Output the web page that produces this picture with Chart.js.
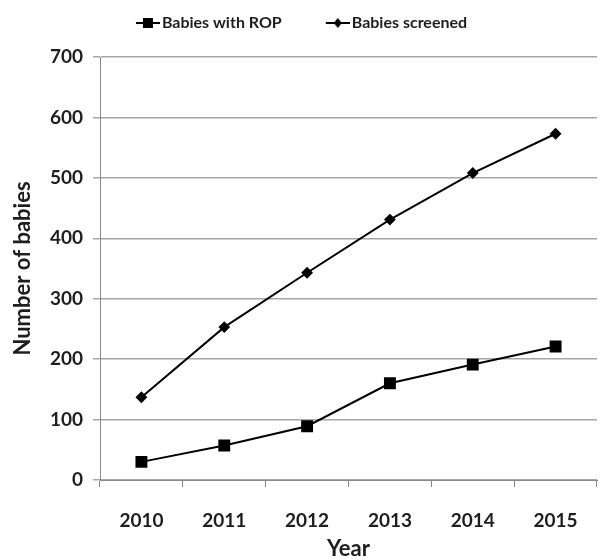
<!DOCTYPE html>
<html>
<head>
<meta charset="utf-8">
<script src="https://cdn.jsdelivr.net/npm/chart.js@4.4.1/dist/chart.umd.min.js"></script>
<style>
  html, body { margin: 0; padding: 0; background: #fff; }
  #wrap { width: 611px; height: 559px; }
</style>
</head>
<body>
<div id="wrap"><canvas id="ropChart"></canvas></div>
<script>
const years = ["2010", "2011", "2012", "2013", "2014", "2015"];
const withRop = [30, 57, 89, 160, 191, 221];
const screened = [137, 253, 343, 431, 508, 573];

const FONT = "Lato, 'Open Sans', sans-serif";
const INK = "#1e1e1e";

// legend swatch: blank lead-in, then a short line with the series marker,
// poking a few px past the box so the label sits close to it
function legendSwatch(kind) {
  const c = document.createElement("canvas");
  c.width = 64; c.height = 12;
  const g = c.getContext("2d");
  g.strokeStyle = "#000";
  g.lineWidth = 2;
  g.beginPath(); g.moveTo(40, 6); g.lineTo(64, 6); g.stroke();
  g.fillStyle = "#000";
  if (kind === "square") {
    g.fillRect(47, 1, 10, 10);
  } else {
    g.beginPath();
    g.moveTo(52, 1); g.lineTo(56, 6); g.lineTo(52, 11); g.lineTo(48, 6);
    g.closePath(); g.fill();
  }
  return c;
}

// fixed legend height; the row is nudged left to make up for the
// empty lead-in of the first swatch
const legendHeight = {
  id: "legendHeight",
  afterInit(chart) {
    const lg = chart.legend;
    if (!lg) return;
    const fit = lg.fit;
    lg.fit = function () {
      fit.call(this);
      this.height = 52;
      if (this.lineWidths && this.lineWidths.length) this.lineWidths[0] += 28;
    };
  }
};

new Chart(document.getElementById("ropChart"), {
  type: "line",
  data: {
    labels: years,
    datasets: [{
      label: "Babies with ROP",
      data: withRop,
      borderColor: "#000",
      backgroundColor: "#000",
      borderWidth: 2,
      pointStyle: "rect",
      pointRadius: 7,
      pointHoverRadius: 7,
      tension: 0
    }, {
      label: "Babies screened",
      data: screened,
      borderColor: "#000",
      backgroundColor: "#000",
      borderWidth: 2,
      pointStyle: "rectRot",
      pointRadius: 4.5,
      pointHoverRadius: 4.5,
      tension: 0
    }]
  },
  options: {
    responsive: true,
    maintainAspectRatio: false,
    animation: false,
    layout: { padding: { top: 5, right: 14, bottom: 0, left: 0 } },
    plugins: {
      tooltip: { enabled: false },
      legend: {
        position: "top",
        labels: {
          color: INK,
          font: { family: FONT, size: 16, weight: "bold" },
          usePointStyle: true,
          pointStyleWidth: 52,
          boxHeight: 12,
          padding: 10,
          generateLabels: chart => chart.data.datasets.map((ds, i) => ({
            text: ds.label,
            fontColor: INK,
            pointStyle: legendSwatch(i === 0 ? "square" : "diamond"),
            lineWidth: 0,
            strokeStyle: "#000",
            fillStyle: "#000",
            datasetIndex: i
          }))
        }
      }
    },
    scales: {
      x: {
        offset: true,
        afterFit: scale => { scale.height = 79; },
        grid: {
          offset: true,
          drawOnChartArea: false,
          drawTicks: true,
          tickLength: 7,
          color: "#888"
        },
        border: { color: "#888", width: 1 },
        ticks: {
          color: INK,
          font: { family: FONT, size: 19, weight: "bold" },
          padding: 22,
          maxRotation: 0
        },
        title: {
          display: true,
          text: "Year",
          color: INK,
          font: { family: FONT, size: 22, weight: "bold" },
          padding: { top: 0, bottom: -3 }
        }
      },
      y: {
        min: 0,
        max: 700,
        afterFit: scale => { scale.width = 100; },
        grid: {
          color: "#a6a6a6",
          lineWidth: 1.5,
          tickLength: 7,
          drawTicks: true
        },
        border: { color: "#888", width: 1 },
        ticks: {
          stepSize: 100,
          color: INK,
          font: { family: FONT, size: 19, weight: "bold" },
          padding: 10
        },
        title: {
          display: true,
          text: "Number of babies",
          color: INK,
          font: { family: FONT, size: 22, weight: "bold" },
          padding: { top: 10, bottom: 0 }
        }
      }
    }
  },
  plugins: [legendHeight]
});
</script>
</body>
</html>
